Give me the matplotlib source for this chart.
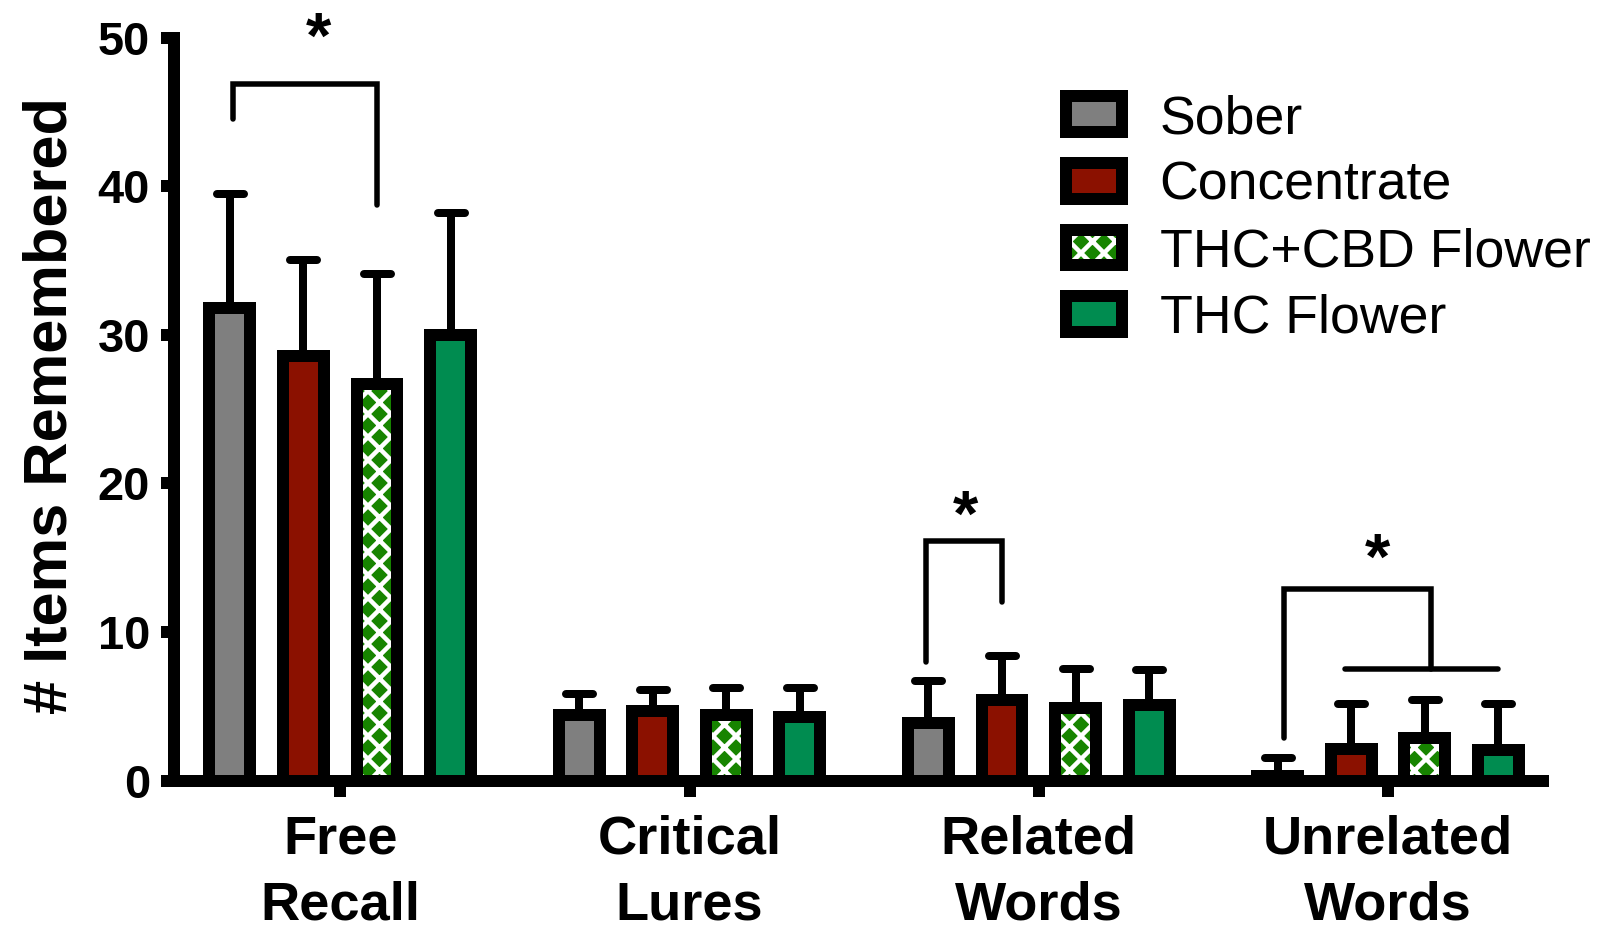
import numpy as np
import matplotlib.pyplot as plt
from matplotlib.markers import MarkerStyle

DPI = 138


def px(v):
    # pixel size -> points at this dpi
    return v * 72 / DPI


plt.rcParams['font.family'] = ['Liberation Sans', 'DejaVu Sans']
plt.rcParams['hatch.linewidth'] = px(4.5)

# Data
groups = ['Free\nRecall', 'Critical\nLures', 'Related\nWords', 'Unrelated\nWords']
conditions = ['Sober', 'Concentrate', 'THC+CBD Flower', 'THC Flower']

sober_mean = [31.8, 4.4, 3.9, 0.3]
sober_sem = [7.7, 1.4, 2.8, 1.2]
conc_mean = [28.6, 4.7, 5.4, 2.1]
conc_sem = [6.4, 1.4, 3.0, 3.05]
thccbd_mean = [26.7, 4.4, 4.9, 2.85]
thccbd_sem = [7.4, 1.8, 2.6, 2.55]
thc_mean = [30.0, 4.3, 5.1, 2.05]
thc_sem = [8.2, 1.9, 2.35, 3.1]

means = [sober_mean, conc_mean, thccbd_mean, thc_mean]
sems = [sober_sem, conc_sem, thccbd_sem, thc_sem]

face_colors = ['#7f7f7f', '#8b1100', '#178400', '#008c50']
hatches = [None, None, 'xx', None]

fig = plt.figure(figsize=(1598 / DPI, 928 / DPI), dpi=DPI)
ax = fig.add_axes([173.5 / 1598, 1 - 780.5 / 928,
                   (1543 - 173.5) / 1598, (780.5 - 37.6) / 928])

group_x = np.arange(len(groups)) * 4.745
offsets = np.array([-1.5, -0.5, 0.5, 1.5])
width = 0.555

handles = []
bar_x = []
for i, cond in enumerate(conditions):
    x = group_x + offsets[i]
    bar_x.append(x)
    face = ax.bar(x, means[i], width=width, color=face_colors[i],
                  edgecolor='white', linewidth=0, hatch=hatches[i], zorder=2)
    edge = ax.bar(x, means[i], width=width, facecolor='none',
                  edgecolor='black', linewidth=px(12), zorder=3)
    _, caps, _ = ax.errorbar(x, means[i], yerr=[np.zeros(len(x)), sems[i]],
                             fmt='none', ecolor='black', elinewidth=px(8),
                             capsize=px(13.5), capthick=px(8), zorder=1)
    for c in caps:
        c.set_marker(MarkerStyle('_', capstyle='round'))
    handles.append((face[0], edge[0]))

# significance brackets
def bracket(x1, x2, y1, y2, top):
    ax.plot([x1, x1, x2, x2], [y1, top, top, y2], color='black',
            lw=px(5.5), solid_capstyle='round', solid_joinstyle='miter',
            clip_on=False, zorder=4)


def star(x, y, size=34):
    ax.annotate('*', xy=(x, y), xytext=(0, -0.56 * size),
                textcoords='offset points', ha='center', va='baseline',
                fontsize=size, fontweight='bold', annotation_clip=False)


bracket(bar_x[0][0] + 0.05, bar_x[2][0], 44.5, 38.7, 46.9)
star(group_x[0] - 0.30, 51.1)

bracket(bar_x[0][2] - 0.03, bar_x[1][2], 8.0, 12.0, 16.1)
star(group_x[2] - 1.0, 18.9)

bracket(bar_x[0][3] + 0.09, bar_x[2][3] + 0.08, 2.85, 7.5, 12.9)
ax.plot([bar_x[1][3] - 0.09, bar_x[3][3]], [7.5, 7.5], color='black',
        lw=px(5.5), solid_capstyle='round', zorder=4)
star(group_x[3] - 0.14, 16.0)

# axes styling
ax.set_xlim(-2.265, 16.34)
ax.set_ylim(0, 50)
ax.set_yticks([0, 10, 20, 30, 40, 50])
ax.set_xticks(group_x, groups)
for s in ['top', 'right']:
    ax.spines[s].set_visible(False)
for s in ['left', 'bottom']:
    ax.spines[s].set_linewidth(px(12))
ax.tick_params(axis='y', length=px(13.5), width=px(12), pad=px(10),
               labelsize=24.5)
ax.tick_params(axis='x', length=px(16.5), width=px(12), pad=px(18),
               labelsize=28.3)
for lbl in ax.get_yticklabels():
    lbl.set_fontweight('bold')
for lbl in ax.get_xticklabels():
    lbl.set_fontweight('bold')
    lbl.set_linespacing(1.4)

ax.set_ylabel('# Items Remembered', fontsize=32, fontweight='bold')
ax.yaxis.set_label_coords(-0.069, 0.505)

ax.legend(handles, conditions, loc='upper left',
          bbox_to_anchor=(1066 / 1598, 1 - 94 / 928),
          bbox_transform=fig.transFigure, frameon=False, fontsize=28,
          handlelength=1.045, handleheight=0.65, handletextpad=0.7,
          labelspacing=0.31, borderpad=0, borderaxespad=0)

fig.savefig('out.png', dpi=DPI)
